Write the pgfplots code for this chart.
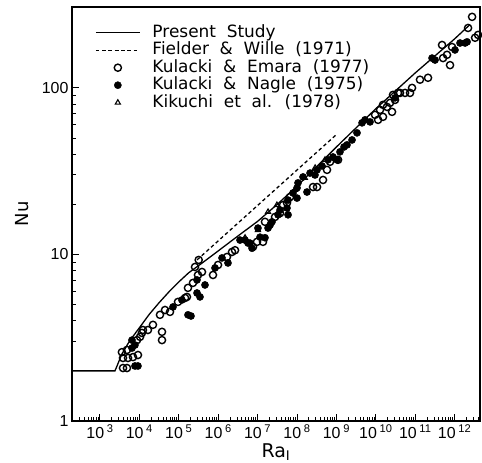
\documentclass[border=0pt]{standalone}
\usepackage{fontspec}
\setmainfont{Liberation Sans}
\newfontfamily\dejavu{DejaVu Sans}
\newfontfamily\legfont[WordSpace=2]{DejaVu Sans}
\usepackage{pgfplots}
\pgfplotsset{compat=1.18}
\begin{document}
\begin{tikzpicture}
\begin{axis}[
  name=ax, at={(0,0)}, anchor=south west,
  scale only axis, width=408bp, height=414bp,
  xmode=log, ymode=log,
  xmin=1.95e2, xmax=4.4e12, ymin=1, ymax=306,
  xtick={1e2,1e3,1e4,1e5,1e6,1e7,1e8,1e9,1e10,1e11,1e12,1e13},
  xticklabel={\pgfmathtruncatemacro\e{round(\tick/2.302585093)}10\,\textsuperscript{\e}},
  ytick={1,10,100}, yticklabels={1,10,100},
  xtick pos=bottom, ytick pos=left,
  tick align=inside,
  major tick length=7bp, minor tick length=4bp,
  axis line style={line width=1.6bp},
  every tick/.style={black, line width=1bp},
  tick label style={font=\fontsize{16}{16}\selectfont},
  xlabel={Ra\textsubscript{I}}, ylabel={Nu},
  every axis x label/.style={at={(axis description cs:0.5,-0.075)}, anchor=center, font=\dejavu\fontsize{19}{19}\selectfont},
  every axis y label/.style={at={(axis description cs:-0.1225,0.5)}, anchor=center, rotate=90, font=\dejavu\fontsize{18}{18}\selectfont},
  legend style={draw=none, fill=none, at={(rel axis cs:0,1)}, anchor=north west,
    inner xsep=23bp, inner ysep=17bp,
    font=\legfont\fontsize{17}{17}\selectfont,
    nodes={inner sep=0pt, text height=13bp, text depth=4bp},
    row sep=0.5bp, column sep=12bp},
  legend cell align=left,
  legend image code/.code={\draw[mark repeat=2,mark phase=2,#1] plot coordinates {(0bp,0bp) (22bp,0bp) (44bp,0bp)};},
]
\addplot[black, line width=1.3bp, no marks] coordinates {
(195,2) (2.4e3,2) (2.82e3,2.19) (3.55e3,2.51) (5.62e3,3.02) (1e4,3.63) (1.78e4,4.37)
(3.16e4,5.13) (5.62e4,5.96) (1e5,6.84) (1.78e5,7.76) (3.98e5,8.91) (1e6,10.5)
(3.16e6,12.9) (1e7,15.8) (3.16e7,20.0) (1e8,25.7) (1e9,44.2) (1e10,75.0)
(1e11,123) (1e12,197) (2.45e12,240)};
\addlegendentry{Present Study}
\addplot[black, line width=1.3bp, dash pattern=on 3.5bp off 2.8bp, no marks] coordinates {
(2.9e5,9.27) (9.77e8,52.2)};
\addlegendentry{Fielder \& Wille (1971)}
\addplot[black, only marks, mark=o, mark size=3.6bp, mark options={line width=1.4bp}] coordinates {
(3.84e3,2.08) (4.84e3,2.08) (3.84e3,2.39) (5.14e3,2.39) (6.89e3,2.42) (9.2e3,2.49)
(3.6e3,2.59) (4.84e3,2.67) (8.7e3,3.06) (1.04e4,3.20) (1.16e4,3.38) (1.23e4,3.52)
(1.65e4,3.52) (2.21e4,3.78) (3.75e4,3.43) (3.75e4,3.06) (3.33e4,4.34) (4.47e4,4.64)
(5.98e4,4.52) (9.55e4,5.19) (1.44e5,5.48) (1.71e5,6.30) (2.29e5,6.75) (3.07e5,7.53)
(2.58e5,8.41) (3.2e5,9.27) (3.88e5,7.85) (1.61e5,5.56) (7.38e5,7.53) (9.9e5,8.65)
(1.67e6,9.66) (2.24e6,10.35) (2.67e6,10.6) (7.64e6,11.1) (9.66e6,11.9) (1.37e7,11.9)
(1.54e7,15.7) (3.71e7,17.7) (5.57e7,20.4) (2.77e7,16.8) (4.42e7,19.8) (6.64e7,22.1)
(2.55e8,25.4) (3.22e8,25.4) (5.77e8,32.2) (6.89e8,36.0) (1.10e9,37.0) (4.57e8,28.0)
(9.55e9,68.9) (1.14e10,64.3) (1.52e10,67.0) (1.28e10,73.8) (1.92e10,76.9) (2.29e10,81.3)
(3.07e10,84.7) (2.73e10,90.8) (3.66e10,93.3) (1.52e10,79.1) (2.58e10,71.8) (4.11e10,93.3)
(5.51e10,93.3) (7.38e10,93.3) (8.30e10,100) (1.32e11,112) (2.11e11,115) (4.79e11,181)
(5.08e11,151) (6.41e11,158) (7.64e11,137) (8.59e11,176) (2.19e12,229) (2.77e12,267)
(3.30e12,200) (3.93e12,208)};
\addlegendentry{Kulacki \& Emara (1977)}
\addplot[black, only marks, mark=*, mark size=3.6bp] coordinates {
(7.73e3,2.14) (9.2e3,2.14) (6.49e3,2.74) (7.73e3,2.86) (6.49e3,3.06) (7.13e4,4.84)
(1.20e5,5.33) (1.71e5,4.34) (2.04e5,4.27) (2.90e5,5.87) (2.90e5,7.03) (4.62e5,6.56)
(3.45e5,5.56) (8.3e5,8.3) (1.25e6,9.53) (1.77e6,8.89) (3.57e6,12.2) (4.79e6,12.2)
(5.70e6,11.7) (7.21e6,10.9) (6.41e6,11.7) (1.15e7,12.7) (1.54e7,12.6) (1.02e7,14.4)
(1.84e7,14.4) (2.32e7,15.7) (2.07e7,15.0) (3.30e7,17.3) (3.71e7,18.5) (5.57e7,19.0)
(5.92e7,17.3) (5.92e7,21.2) (7.91e7,23.4) (1.0e8,25.1) (1.06e8,26.9) (1.0e8,21.8)
(1.42e8,29.2) (1.79e8,23.7) (2.14e8,30.8) (3.22e8,32.2) (2.86e8,30.0) (4.31e8,34.0)
(6.12e8,37.0) (1.56e9,44.2) (8.20e8,38.5) (1.23e9,41.3) (1.04e9,37.0) (1.86e9,45.5)
(2.49e9,48.7) (3.33e9,53.7) (4.47e9,61.7) (5.32e9,64.3) (7.13e9,62.5) (3.07e10,87.1)
(2.67e11,151) (3.18e11,147) (1.02e12,169) (1.37e12,186) (1.84e12,186) (2.07e12,189)};
\addlegendentry{Kulacki \& Nagle (1975)}
\addplot[black, only marks, mark=triangle, mark size=3bp, mark options={line width=1.1bp}] coordinates {
(1.02e7,14.0) (1.84e7,18.0) (3.09e7,19.8) (8.9e7,24.4) (1.58e8,28.8) (2.88e8,33.1)
(4.8e6,12.6) (5.13e8,37.0)};
\addlegendentry{Kikuchi et al. (1978)}
\end{axis}
\pgfresetboundingbox
\path ([shift={(-72bp,-42bp)}]ax.south west) rectangle ([shift={(2bp,7bp)}]ax.north east);
\end{tikzpicture}
\end{document}
